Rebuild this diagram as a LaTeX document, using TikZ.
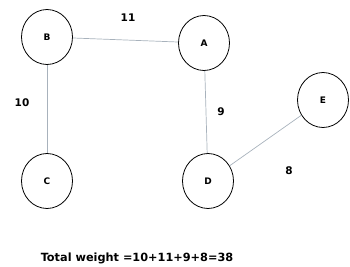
\documentclass[tikz,border=0pt]{standalone}
\usepackage{fontspec}
\setmainfont{DejaVu Sans}
\usetikzlibrary{shapes.geometric}
\definecolor{edgegray}{HTML}{A8B2BC}
\tikzset{vertex/.style={draw, ellipse, line width=0.8pt, minimum width=51pt, minimum height=55pt, inner sep=0pt, font=\bfseries\fontsize{9}{10}\selectfont},
  edge/.style={draw=edgegray, line width=0.7pt},
  weight/.style={font=\bfseries\fontsize{10.5}{12}\selectfont}}

\begin{document}
\begin{tikzpicture}[x=1pt,y=-1pt]
\useasboundingbox (0,0) rectangle (350,267);
\node[vertex] (B) at (47,37) {B};
\node[vertex] (A) at (204,43) {A};
\node[vertex] (E) at (323,100) {E};
\node[vertex] (C) at (47,181) {C};
\node[vertex] (D) at (208,181) {D};
\draw[edge] (B) -- (A);
\draw[edge] (B) -- (C);
\draw[edge] (A) -- (D);
\draw[edge] (D) -- (E);
\node[weight] (wBA) at (128,18) {11};
\node[weight] (wBC) at (22,103) {10};
\node[weight] (wAD) at (221,112) {9};
\node[weight] (wDE) at (289,171) {8};
\node[weight, font=\bfseries\fontsize{11.3}{13}\selectfont] (total) at (137,258) {Total weight =10+11+9+8=38};
\end{tikzpicture}
\end{document}
